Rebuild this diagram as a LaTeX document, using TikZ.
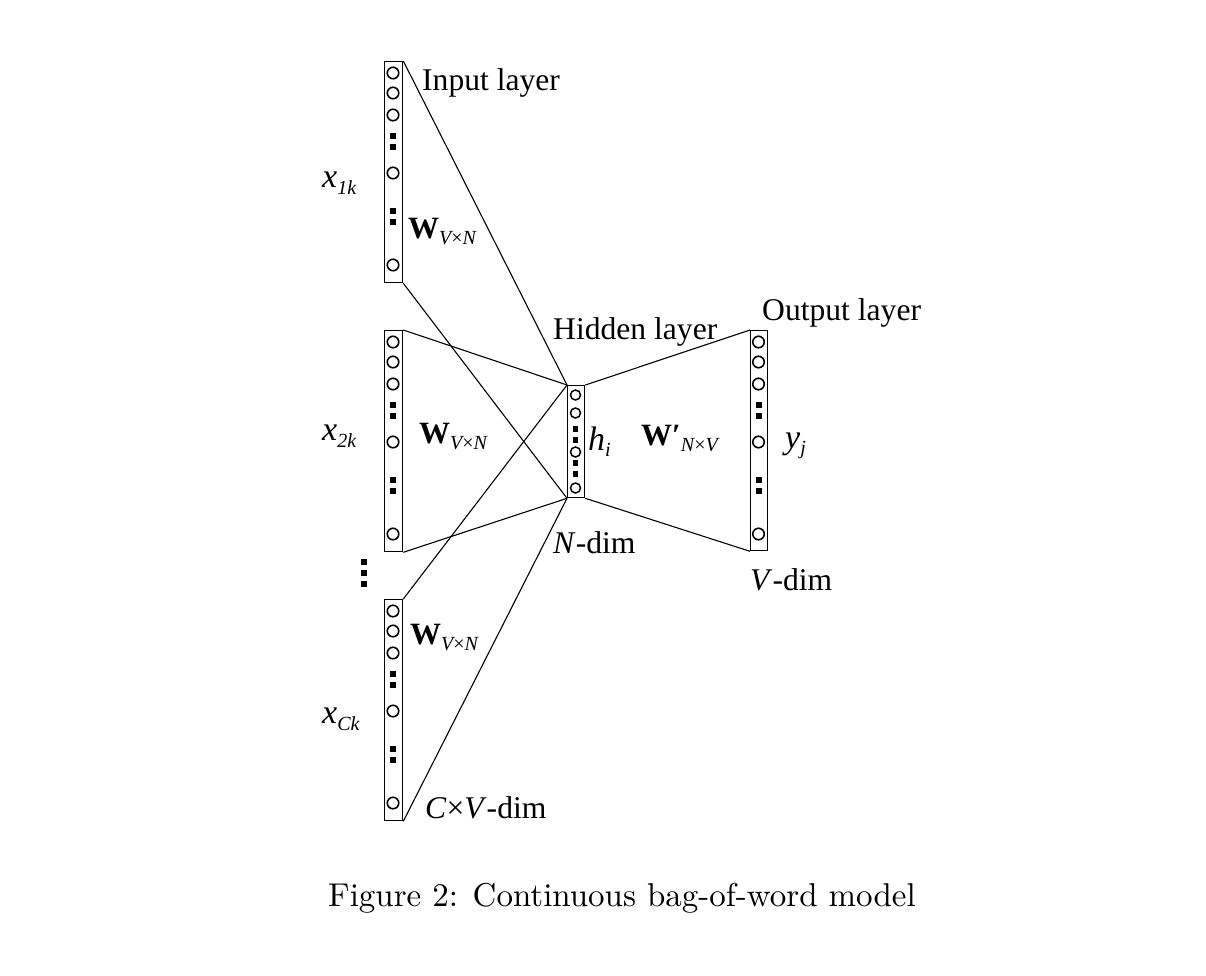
\documentclass[tikz,border=0pt]{standalone}
\usepackage{graphicx}
\usepackage{fontspec}
\newfontfamily\tnr{Liberation Serif}
\newcommand\colunits[3]{%
  \foreach \d [count=\k] in {12,32,54,112,204} \node[unit] (#3u\k) at (#1,#2+\d) {};
  \foreach \d [count=\k] in {75,85.5,150,160.5} \node[dotsq] (#3s\k) at (#1,#2+\d) {};
}
\newcommand\subs[1]{\raisebox{-6pt}{\fontsize{20}{21}\selectfont\mdseries #1}}
\begin{document}
\begin{tikzpicture}[x=1pt,y=-1pt,
  col/.style={draw, line width=1.3pt, minimum width=18pt, minimum height=221pt, inner sep=0, anchor=north west},
  unit/.style={circle, draw, line width=1.6pt, minimum size=11.5pt, inner sep=0},
  hunit/.style={circle, draw, line width=1.5pt, minimum size=10pt, inner sep=0},
  dotsq/.style={fill=black, minimum size=6pt, inner sep=0},
  conn/.style={line width=1.1pt},
  lbl/.style={anchor=base west, inner sep=0, font=\tnr\fontsize{31.6}{36}\selectfont}]
\useasboundingbox (0,0) rectangle (1206,975);
% input columns
\node[col] (c1) at (384,61) {};
\node[col] (c2) at (384,330) {};
\node[col] (c3) at (384,599) {};
\colunits{393}{61}{a}
\colunits{393}{330}{b}
\colunits{393}{599}{c}
% hidden
\node[col, minimum width=17pt, minimum height=112pt] (hid) at (567,385) {};
\foreach \y [count=\k] in {395,413,452,488} \node[hunit] (hu\k) at (575.5,\y) {};
\foreach \y [count=\k] in {429,440,463,474} \node[dotsq, minimum size=5.5pt] (hs\k) at (575.5,\y) {};
% output
\node[col, minimum width=17pt, minimum height=220pt] (out) at (750,330) {};
\colunits{758.5}{330}{o}
% connectors
\draw[conn] (c1.north east) -- (hid.north west);
\draw[conn] (c1.south east) -- (hid.south west);
\draw[conn] (c2.north east) -- (hid.north west);
\draw[conn] (c2.south east) -- (hid.south west);
\draw[conn] (c3.north east) -- (hid.north west);
\draw[conn] (c3.south east) -- (hid.south west);
\draw[conn] (hid.north east) -- (out.north west);
\draw[conn] (hid.south east) -- (out.south west);
% vertical dots
\foreach \y [count=\k] in {562,573,584} \node[dotsq, minimum size=6.5pt] (vd\k) at (364,\y) {};
% labels
\node[lbl] (inl) at (422,90) {Input layer};
\node[lbl] (hidl) at (553,339) {Hidden layer};
\node[lbl] (outl) at (762,320) {Output layer};
\node[lbl] (ndim) at (553,553) {\textit{N}-dim};
\node[lbl] (vdim) at (750,590) {\textit{V}-dim};
\node[lbl] (cvdim) at (425,818) {\textit{C}×\textit{V}-dim};
\node[lbl] (x1) at (322,187) {\fontsize{34}{36}\selectfont\itshape x\raisebox{-7pt}{\fontsize{20}{21}\selectfont 1k}};
\node[lbl] (x2) at (322,440) {\fontsize{34}{36}\selectfont\itshape x\raisebox{-7pt}{\fontsize{20}{21}\selectfont 2k}};
\node[lbl] (x3) at (322,723) {\fontsize{34}{36}\selectfont\itshape x\raisebox{-7pt}{\fontsize{20}{21}\selectfont Ck}};
\node[lbl] (w1) at (408,238) {\fontsize{31}{33}\selectfont\bfseries W\subs{\itshape V\upshape×\itshape N}};
\node[lbl] (w2) at (419,443) {\fontsize{31}{33}\selectfont\bfseries W\subs{\itshape V\upshape×\itshape N}};
\node[lbl] (w3) at (410,644) {\fontsize{31}{33}\selectfont\bfseries W\subs{\itshape V\upshape×\itshape N}};
\node[lbl] (wp) at (641,445) {\fontsize{31}{33}\selectfont\bfseries W′\subs{\itshape N\upshape×\itshape V}};
\node[lbl] (hi) at (588,450) {\fontsize{34}{36}\selectfont\itshape h\raisebox{-6pt}{\fontsize{20}{21}\selectfont i}};
\node[lbl] (yj) at (785,448) {\fontsize{34}{36}\selectfont\itshape y\raisebox{-6pt}{\fontsize{20}{21}\selectfont j}};
% caption
\node[anchor=base west, inner sep=0] (cap) at (328,906) {\scalebox{3.3}{Figure 2: Continuous bag-of-word model}};
\end{tikzpicture}
\end{document}
